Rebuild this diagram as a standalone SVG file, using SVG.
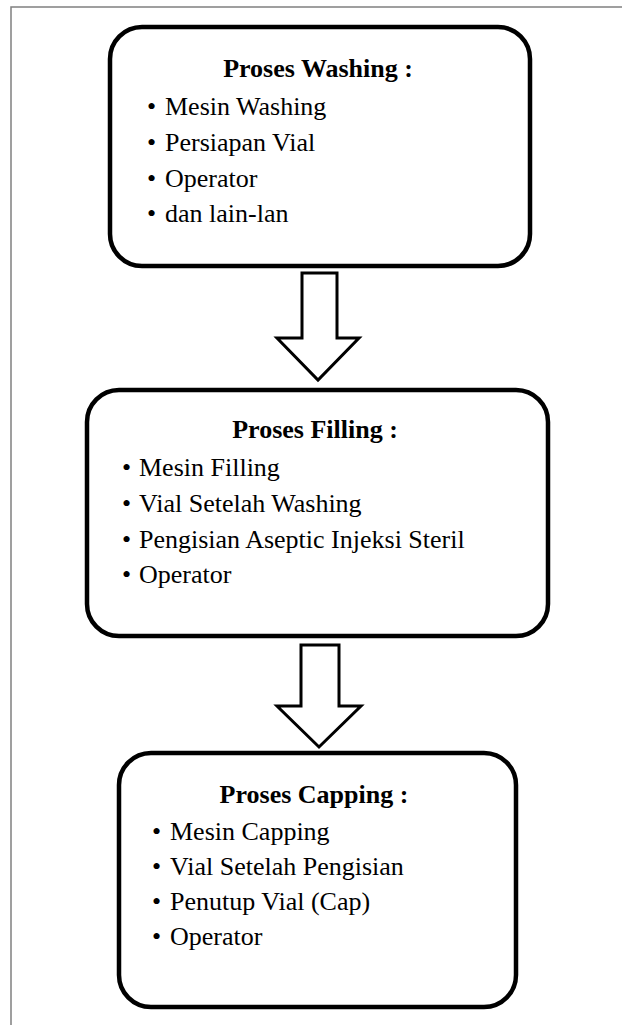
<svg xmlns="http://www.w3.org/2000/svg" width="622" height="1025" viewBox="0 0 622 1025">
<style>
.box{fill:#fff;stroke:#000;stroke-width:4.5}
.arr{fill:#fff;stroke:#000;stroke-width:3;stroke-linejoin:miter}
.frame{fill:none;stroke:#808080;stroke-width:1.5}
.t{font-family:"Liberation Serif","Times New Roman",serif;font-size:26px;font-weight:bold;fill:#000;text-anchor:middle}
.b{font-family:"Liberation Serif","Times New Roman",serif;font-size:26px;fill:#000}
</style>
<rect width="622" height="1025" fill="#fff"/>
<path class="frame" d="M11 1025 V7 H622"/>
<g id="connectors">
<polygon class="arr" points="302,273 337,273 337,338 359,338 318,380 277,338 302,338"/>
<polygon class="arr" points="301,645 339,645 339,706 361,706 319,747 277,706 301,706"/>
</g>
<g id="washing">
<rect class="box" x="110" y="27" width="420" height="239" rx="32"/>
<text class="t" x="318" y="77">Proses Washing :</text>
<text class="b" x="147" y="115">•</text><text class="b" x="165" y="115">Mesin Washing</text>
<text class="b" x="147" y="151">•</text><text class="b" x="165" y="151">Persiapan Vial</text>
<text class="b" x="147" y="187">•</text><text class="b" x="165" y="187">Operator</text>
<text class="b" x="147" y="222">•</text><text class="b" x="165" y="222">dan lain-lan</text>
</g>
<g id="filling">
<rect class="box" x="87" y="390" width="461" height="246" rx="32"/>
<text class="t" x="315" y="438">Proses Filling :</text>
<text class="b" x="122" y="476">•</text><text class="b" x="139" y="476">Mesin Filling</text>
<text class="b" x="122" y="512">•</text><text class="b" x="139" y="512">Vial Setelah Washing</text>
<text class="b" x="122" y="548">•</text><text class="b" x="139" y="548">Pengisian Aseptic Injeksi Steril</text>
<text class="b" x="122" y="583">•</text><text class="b" x="139" y="583">Operator</text>
</g>
<g id="capping">
<rect class="box" x="119" y="753" width="397" height="254" rx="32"/>
<text class="t" x="314" y="803">Proses Capping :</text>
<text class="b" x="152" y="840">•</text><text class="b" x="170" y="840">Mesin Capping</text>
<text class="b" x="152" y="875">•</text><text class="b" x="170" y="875">Vial Setelah Pengisian</text>
<text class="b" x="152" y="910">•</text><text class="b" x="170" y="910">Penutup Vial (Cap)</text>
<text class="b" x="152" y="945">•</text><text class="b" x="170" y="945">Operator</text>
</g>
</svg>
